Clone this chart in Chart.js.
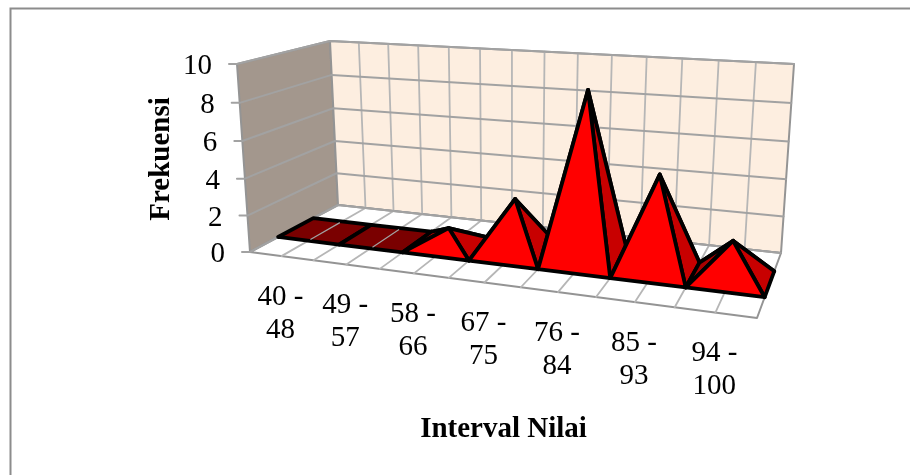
<!DOCTYPE html>
<html>
<head>
<meta charset="utf-8">
<script src="https://cdn.jsdelivr.net/npm/chart.js@4"></script>
<style>
html, body { margin: 0; padding: 0; background: #fff; }
canvas { display: block; }
</style>
</head>
<body>
<canvas id="chart" width="910" height="475"></canvas>
<script>
const categories = [['40 -', '48'], ['49 -', '57'], ['58 -', '66'], ['67 -', '75'], ['76 -', '84'], ['85 -', '93'], ['94 -', '100']];
const frequencies = [0, 0, 1, 3, 9, 5, 2];
const yTicks = [0, 2, 4, 6, 8, 10];
const yMax = 10;
const xTitle = 'Interval Nilai';
const yTitle = 'Frekuensi';

// corners of the 3d box on the page: [front/back][left/right][bottom/top]
const box = {
    fl0: [250, 252], fr0: [757, 318], bl0: [338, 205], br0: [781, 253],
    fl1: [237, 64], fr1: [774, 101], bl1: [330, 41], br1: [794, 64]
};
const baseFront = 0.32;
const baseBack = 0.72;
const GRID = '#a2a2a2';
const GRID_LIGHT = '#b6b6b6';
const EDGE = '#949494';
const OUTLINE = '#000000';
const FRONT = '#ff0000';
const SIDE = '#c80000';
const BACK = '#a80000';
const FLAT = '#7a0000';

function lerp(a, b, t) {
    return [a[0] + (b[0] - a[0]) * t, a[1] + (b[1] - a[1]) * t];
}

// u: along categories, v: depth, h: height, all 0..1, with some perspective
function project(u, v, h) {
    const t = u * 0.86 / (1 - 0.14 * u);
    const s = h * 0.96 / (1 - 0.04 * h);
    const bottom = lerp(lerp(box.fl0, box.fr0, t), lerp(box.bl0, box.br0, t), v);
    const top = lerp(lerp(box.fl1, box.fr1, t), lerp(box.bl1, box.br1, t), v);
    const p = lerp(bottom, top, s);
    return { x: p[0], y: p[1] };
}

function face(points, fill, border, width) {
    return {
        data: points,
        showLine: true,
        tension: 0,
        pointRadius: 0,
        fill: fill ? 'shape' : false,
        backgroundColor: fill || 'transparent',
        borderColor: border,
        borderWidth: width,
        borderJoinStyle: 'round',
        borderCapStyle: 'round'
    };
}

function polygon(points, fill, border, width) {
    return face(points.concat([points[0]]), fill, border, width);
}

const n = categories.length;
const layers = [];

// walls and floor
layers.push(polygon([project(0, 0, 0), project(0, 1, 0), project(0, 1, 1), project(0, 0, 1)], '#a3978d', EDGE, 2));
layers.push(polygon([project(0, 1, 0), project(1, 1, 0), project(1, 1, 1), project(0, 1, 1)], '#fdeee0', EDGE, 2));
layers.push(polygon([project(0, 0, 0), project(1, 0, 0), project(1, 1, 0), project(0, 1, 0)], '#ffffff', EDGE, 2));

// grid lines, half a category apart
for (let i = 1; i < n * 2; i++) {
    const u = i / (n * 2);
    layers.push(face([project(u, 0, 0), project(u, 1, 0), project(u, 1, 1)], null, GRID_LIGHT, 1.8));
}
yTicks.forEach(tick => {
    const h = tick / yMax;
    const front = project(0, 0, h);
    layers.push(face([{ x: front.x - 8, y: front.y }, front, project(0, 1, h), project(1, 1, h)], null, GRID, 2));
});

// one pyramid per category, left to right so the later ones cover the earlier
frequencies.forEach((value, i) => {
    const u0 = i / n;
    const u1 = (i + 1) / n;
    const fl = project(u0, baseFront, 0);
    const fr = project(u1, baseFront, 0);
    const br = project(u1, baseBack, 0);
    const bl = project(u0, baseBack, 0);
    if (value === 0) {
        layers.push(polygon([fl, fr, br, bl], FLAT, OUTLINE, 3.8));
        const c = (u0 + u1) / 2;
        layers.push(face([project(c, baseFront + 0.03, 0), project(c, baseBack - 0.03, 0)], null, GRID, 1.2));
        return;
    }
    const apex = project((u0 + u1) / 2, (baseFront + baseBack) / 2, value / yMax);
    layers.push(polygon([bl, br, apex], BACK, OUTLINE, 3.8));
    layers.push(polygon([bl, fl, apex], BACK, OUTLINE, 3.8));
    layers.push(polygon([fr, br, apex], SIDE, OUTLINE, 3.8));
    layers.push(polygon([fl, fr, apex], FRONT, OUTLINE, 3.8));
});

// line datasets are painted last to first
const datasets = layers.reverse();

const labelsPlugin = {
    id: 'labels3d',
    afterDraw(chart) {
        const ctx = chart.ctx;
        const sx = chart.scales.x;
        const sy = chart.scales.y;
        ctx.save();
        // frame runs off the right and bottom of the picture
        ctx.strokeStyle = '#8c8c8c';
        ctx.lineWidth = 2;
        ctx.beginPath();
        ctx.moveTo(sx.getPixelForValue(10.5), sy.getPixelForValue(475));
        ctx.lineTo(sx.getPixelForValue(10.5), sy.getPixelForValue(8.5));
        ctx.lineTo(sx.getPixelForValue(910), sy.getPixelForValue(8.5));
        ctx.stroke();
        ctx.fillStyle = '#000';
        ctx.font = '29px "Liberation Serif"';
        ctx.textBaseline = 'middle';
        ctx.textAlign = 'right';
        yTicks.forEach(tick => {
            const p = project(0, 0, tick / yMax);
            ctx.fillText(String(tick), sx.getPixelForValue(p.x - 25), sy.getPixelForValue(p.y + 2.5));
        });
        ctx.textAlign = 'center';
        categories.forEach((lines, i) => {
            const p = project((i + 0.5) / n, 0, 0);
            lines.forEach((line, k) => {
                ctx.fillText(line, sx.getPixelForValue(p.x - 1), sy.getPixelForValue(p.y + 41 + k * 33));
            });
        });
        ctx.font = 'bold 29px "Liberation Serif"';
        ctx.fillText(xTitle, sx.getPixelForValue(503.5), sy.getPixelForValue(430));
        ctx.translate(sx.getPixelForValue(162), sy.getPixelForValue(159));
        ctx.rotate(-Math.PI / 2);
        ctx.fillText(yTitle, 0, 0);
        ctx.restore();
    }
};

new Chart(document.getElementById('chart'), {
    type: 'scatter',
    data: { datasets },
    options: {
        responsive: false,
        animation: false,
        layout: { padding: 0 },
        plugins: { legend: { display: false }, tooltip: { enabled: false } },
        scales: {
            x: { type: 'linear', min: 0, max: 910, display: false },
            y: { type: 'linear', min: 0, max: 475, reverse: true, display: false }
        }
    },
    plugins: [labelsPlugin]
});
</script>
</body>
</html>
